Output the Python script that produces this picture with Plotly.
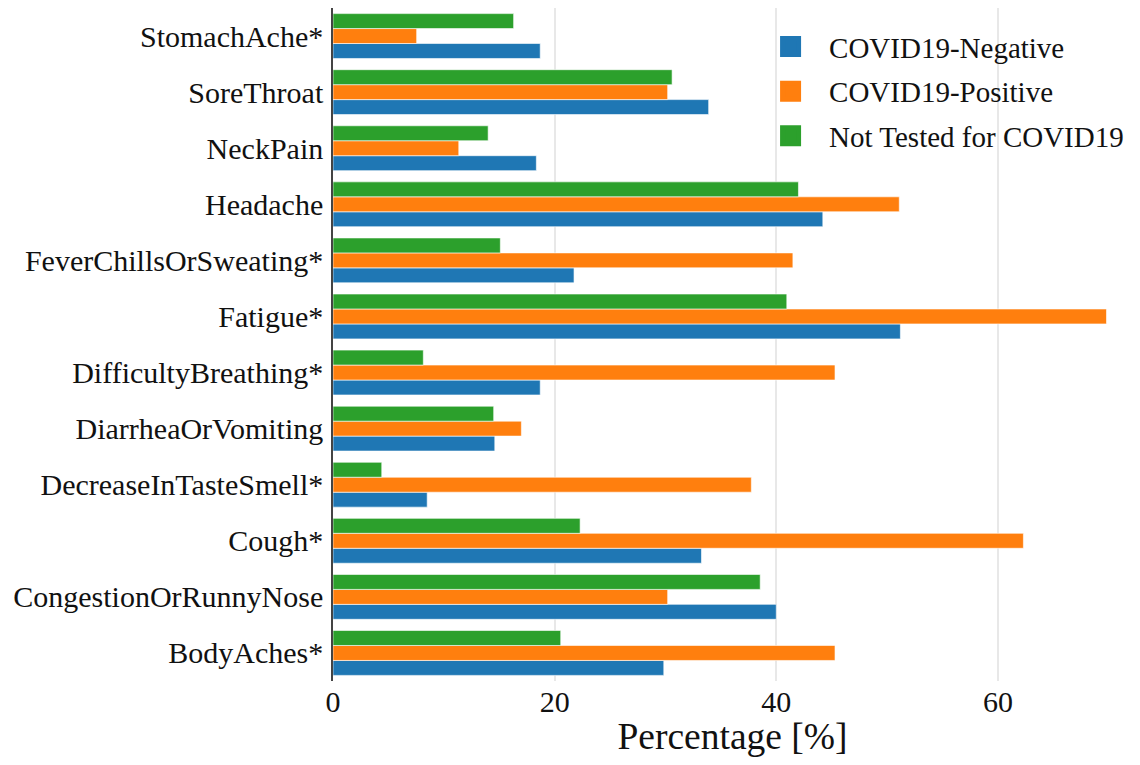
import plotly.graph_objects as go

categories = [
    "BodyAches*", "CongestionOrRunnyNose", "Cough*", "DecreaseInTasteSmell*",
    "DiarrheaOrVomiting", "DifficultyBreathing*", "Fatigue*",
    "FeverChillsOrSweating*", "Headache", "NeckPain", "SoreThroat", "StomachAche*",
]
covid_negative = [29.85, 40.0, 33.25, 8.5, 14.6, 18.7, 51.2, 21.75, 44.2, 18.35, 33.9, 18.7]
covid_positive = [45.3, 30.2, 62.3, 37.75, 17.0, 45.3, 69.8, 41.5, 51.1, 11.35, 30.2, 7.55]
not_tested = [20.55, 38.55, 22.3, 4.4, 14.5, 8.15, 40.95, 15.1, 42.0, 14.0, 30.6, 16.3]

series_names = ["COVID19-Negative", "COVID19-Positive", "Not Tested for COVID19"]
series_values = [covid_negative, covid_positive, not_tested]
colors = ["#1f77b4", "#ff7f0e", "#2ca02c"]

FONT = "Liberation Serif, Times New Roman, serif"

fig = go.Figure()
for name, vals, col in zip(series_names, series_values, colors):
    fig.add_trace(go.Bar(
        y=categories, x=vals, orientation="h", name=name,
        marker=dict(color=col, line=dict(color="rgba(255,255,255,0.6)", width=1)),
        showlegend=False,
    ))
# legend entries with larger square swatches
for i, (name, col) in enumerate(zip(series_names, colors)):
    fig.add_trace(go.Scatter(
        x=[None], y=[None], mode="markers", name=name,
        marker=dict(symbol="square", size=16, color=col, line=dict(color=col, width=5)),
        legendgroup=f"g{i}", showlegend=True,
    ))

fig.update_layout(
    width=1124, height=749,
    barmode="group", bargap=0.2, bargroupgap=0,
    plot_bgcolor="white", paper_bgcolor="white",
    font=dict(family=FONT, size=30, color="#111"),
    margin=dict(l=325, r=0, t=0, b=76),
    legend=dict(
        x=0.5245, xanchor="left", y=0.9805, yanchor="top",
        font=dict(family=FONT, size=29, color="#111"),
        bgcolor="rgba(255,255,255,0)", itemsizing="trace", itemwidth=67,
        tracegroupgap=4, traceorder="grouped",
    ),
    xaxis=dict(
        range=[0, 72.1], showgrid=True, gridcolor="#e8e8e8", gridwidth=1.5,
        zeroline=False, showline=False, ticks="", tickvals=[0, 20, 40, 60],
        tickfont=dict(size=30), automargin="left",
        title=dict(text="Percentage [%]", font=dict(size=37.5), standoff=16),
    ),
    yaxis=dict(
        type="category", showgrid=False, zeroline=False,
        showline=True, linecolor="#444", linewidth=1.5, ticks="",
        tickfont=dict(size=30), ticklabelstandoff=2, automargin=False,
    ),
)

fig.write_html("out.html")
